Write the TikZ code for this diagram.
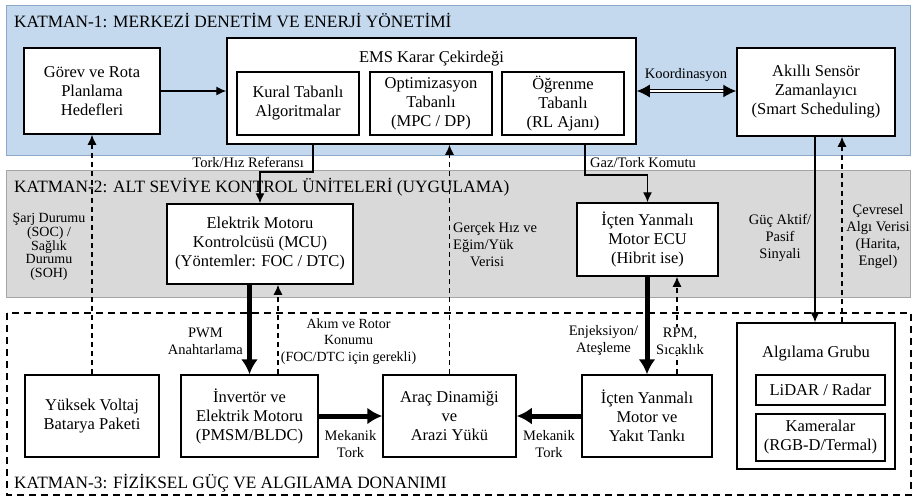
\documentclass[tikz,border=0pt]{standalone}
\usepackage{fontspec}
\setmainfont{Liberation Serif}
\usetikzlibrary{arrows.meta}
\definecolor{layerblue}{RGB}{196,217,238}
\definecolor{layerblueedge}{RGB}{140,168,200}
\definecolor{layergray}{RGB}{217,217,217}
\definecolor{layergrayedge}{RGB}{165,165,165}

\begin{document}
\begin{tikzpicture}[x=1pt,y=-1pt,
  box/.style={draw, line width=1.5pt, fill=white, align=center, inner sep=0pt,
              font=\fontsize{16.5}{19}\selectfont},
  boxtitle/.style={anchor=base, inner sep=0pt, font=\fontsize{16.5}{19}\selectfont},
  lbl/.style={align=center, inner sep=0pt, font=\fontsize{14.5}{17}\selectfont},
  ttl/.style={anchor=base west, inner sep=0pt, font=\fontsize{17.3}{20}\selectfont},
  conn/.style={line width=1.3pt, -{Latex[length=10pt,width=9pt]}},
  dconn/.style={conn, dash pattern=on 5pt off 4pt},
  power/.style={line width=5pt, -{Latex[length=15pt,width=17pt]}},
]
% canvas
\path[fill=white, use as bounding box] (0,0) rectangle (914,499);

% layers
\draw[fill=layerblue, draw=layerblueedge, line width=1pt] (6,5) rectangle (910,155);
\draw[fill=layergray, draw=layergrayedge, line width=1pt] (6,170) rectangle (910,297);
\draw[line width=1.5pt, dash pattern=on 7pt off 5pt] (7,313) rectangle (911,495);

\node[ttl] (t1) at (14,27) {KATMAN-1: MERKEZİ DENETİM VE ENERJİ YÖNETİMİ};
\node[ttl] (t2) at (14,192) {KATMAN-2: ALT SEVİYE KONTROL ÜNİTELERİ (UYGULAMA)};
\node[ttl] (t3) at (14,488) {KATMAN-3: FİZİKSEL GÜÇ VE ALGILAMA DONANIMI};

% layer 1
\node[box, minimum width=136pt, minimum height=86pt] (gorev) at (92,91)
  {Görev ve Rota\\Planlama\\Hedefleri};
\node[box, minimum width=409pt, minimum height=106pt] (ems) at (431.5,91) {};
\node[boxtitle] (emst) at (431.5,62) {EMS Karar Çekirdeği};
\node[box, minimum width=122pt, minimum height=63pt] (kural) at (298,103.5)
  {Kural Tabanlı\\Algoritmalar};
\node[box, minimum width=122pt, minimum height=63pt] (opt) at (431,103.5)
  {Optimizasyon\\Tabanlı\\(MPC / DP)};
\node[box, minimum width=122pt, minimum height=63pt] (ogr) at (563,103.5)
  {Öğrenme\\Tabanlı\\(RL Ajanı)};
\node[box, minimum width=158pt, minimum height=88pt] (sensor) at (816,92)
  {Akıllı Sensör\\Zamanlayıcı\\(Smart Scheduling)};

% layer 2
\node[box, minimum width=186pt, minimum height=80pt] (mcu) at (260,244)
  {Elektrik Motoru\\Kontrolcüsü (MCU)\\(Yöntemler: FOC / DTC)};
\node[box, minimum width=141pt, minimum height=73pt] (ecu) at (647.5,239.5)
  {İçten Yanmalı\\Motor ECU\\(Hibrit ise)};

% layer 3
\node[box, minimum width=134pt, minimum height=82pt] (bat) at (92,416)
  {Yüksek Voltaj\\Batarya Paketi};
\node[box, minimum width=137pt, minimum height=82pt] (inv) at (249.5,416)
  {İnvertör ve\\Elektrik Motoru\\(PMSM/BLDC)};
\node[box, minimum width=133pt, minimum height=82pt] (arac) at (449.5,416)
  {Araç Dinamiği\\ve\\Arazi Yükü};
\node[box, minimum width=130pt, minimum height=82pt] (ice) at (647,416)
  {İçten Yanmalı\\Motor ve\\Yakıt Tankı};
\node[box, minimum width=158pt, minimum height=146pt] (alg) at (816,396) {};
\node[boxtitle] (algt) at (816,357) {Algılama Grubu};
\node[box, minimum width=129pt, minimum height=30pt] (lidar) at (820.5,390)
  {LiDAR / Radar};
\node[box, minimum width=129pt, minimum height=47pt] (kam) at (820.5,437.5)
  {Kameralar\\(RGB-D/Termal)};

% bend points
\coordinate (tkbend) at (313,172);
\coordinate (gzbend) at (585,175);

% connectors, layer 1
\draw[conn] (gorev.east) -- (ems.west);
\draw[line width=1.2pt, double distance=1.6pt,
      {Latex[length=13pt,width=13pt]}-{Latex[length=13pt,width=13pt]}]
  (ems.east) -- (ems.east -| sensor.west);
\node[lbl] (koord) at (686,75) {Koordinasyon};

% commands down to layer 2
\draw[conn] (ems.south -| tkbend) -- (tkbend) -| (mcu.north);
\node[lbl, anchor=east] (tklbl) at (304,162) {Tork/Hız Referansı};
\draw[conn] (ems.south -| gzbend) -- (gzbend) -| (ecu.north);
\node[lbl, anchor=west] (gzlbl) at (590,163) {Gaz/Tork Komutu};

% feedback up
\draw[dconn] (bat.north) -- (gorev.south);
\node[lbl, font=\fontsize{14}{13.8}\selectfont] (soc) at (49,247)
  {Şarj Durumu\\(SOC) /\\Sağlık\\Durumu\\(SOH)};
\draw[dconn] (arac.north) -- (ems.south -| arac.north);
\node[lbl, align=left, anchor=west] (hiz) at (453,244.5)
  {Gerçek Hız ve\\Eğim/Yük\\\hspace*{17pt}Verisi};

% electric drive
\draw[power] (mcu.south -| inv.north) -- (inv.north);
\node[lbl, anchor=east] (pwm) at (243,341) {PWM\\Anahtarlama};
\draw[dconn] (inv.north -| 278,0) -- (mcu.south -| 278,0);
\node[lbl, font=\fontsize{14}{16.5}\selectfont] (akim) at (348.5,341.5)
  {Akım ve Rotor\\Konumu\\(FOC/DTC için gerekli)};

% combustion drive
\draw[power] (ecu.south -| ice.north) -- (ice.north);
\node[lbl] (enj) at (603.5,341) {Enjeksiyon/\\Ateşleme};
\draw[dconn] (ice.north -| 677,0) -- (ecu.south -| 677,0);
\node[lbl, fill=white, inner sep=1pt] (rpm) at (680,341) {RPM,\\Sıcaklık};

% mechanical torque
\draw[power] (inv.east) -- (arac.west);
\node[lbl] (mek1) at (350.5,444.5) {Mekanik\\Tork};
\draw[power] (ice.west) -- (arac.east);
\node[lbl] (mek2) at (549,444.5) {Mekanik\\Tork};

% sensing
\draw[conn] (sensor.south -| 815,0) -- (alg.north -| 815,0);
\node[lbl] (guc) at (780,238) {Güç Aktif/\\Pasif\\Sinyali};
\draw[dconn] (alg.north -| 842,0) -- (sensor.south -| 842,0);
\node[lbl] (cevre) at (878,237) {Çevresel\\Algı Verisi\\(Harita,\\Engel)};
\end{tikzpicture}
\end{document}
